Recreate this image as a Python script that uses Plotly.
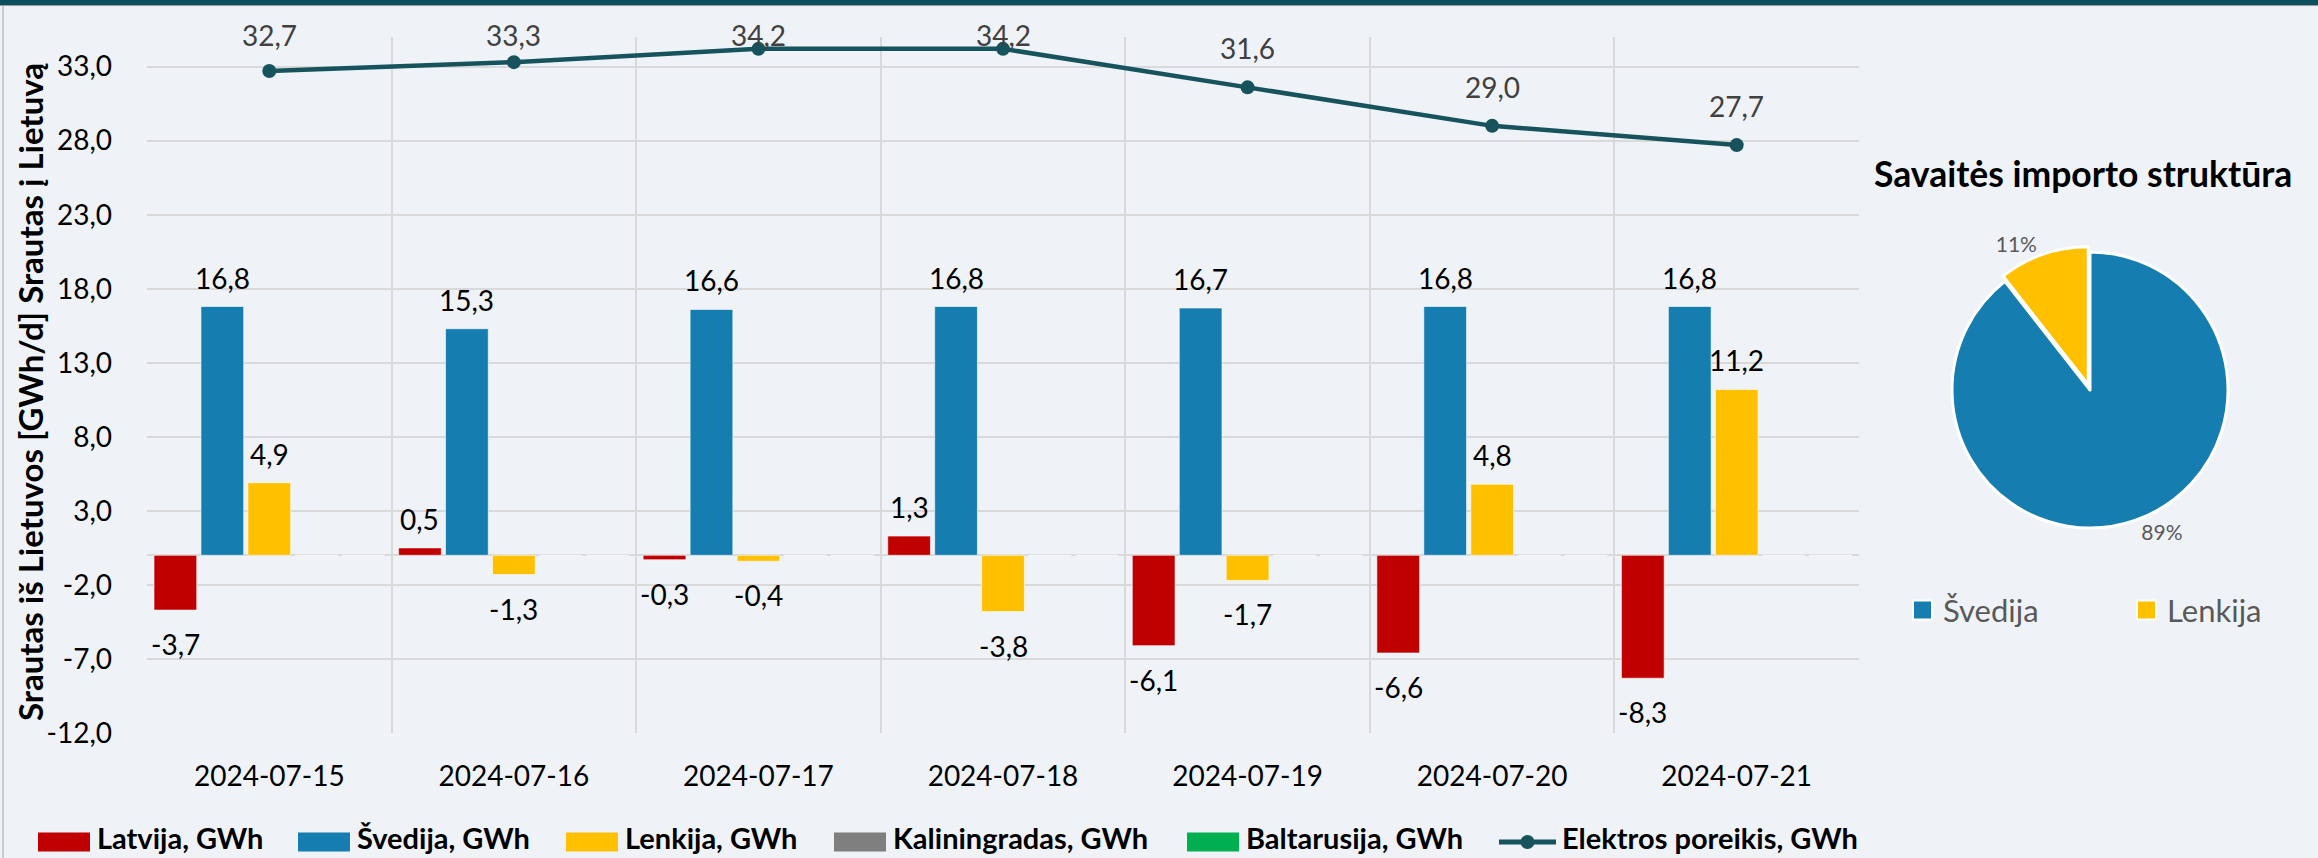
import plotly.graph_objects as go

# ---------------- data ----------------
dates = ["2024-07-15", "2024-07-16", "2024-07-17", "2024-07-18",
         "2024-07-19", "2024-07-20", "2024-07-21"]
latvija = [-3.7, 0.5, -0.3, 1.3, -6.1, -6.6, -8.3]
svedija = [16.8, 15.3, 16.6, 16.8, 16.7, 16.8, 16.8]
lenkija = [4.9, -1.3, -0.4, -3.8, -1.7, 4.8, 11.2]
kaliningradas = [0, 0, 0, 0, 0, 0, 0]
baltarusija = [0, 0, 0, 0, 0, 0, 0]
poreikis = [32.7, 33.3, 34.2, 34.2, 31.6, 29.0, 27.7]

y_ticks = [-12, -7, -2, 3, 8, 13, 18, 23, 28, 33]

pie_labels = ["Švedija", "Lenkija"]
pie_values = [sum(svedija), sum(lenkija)]

series_names = ["Latvija, GWh", "Švedija, GWh", "Lenkija, GWh",
                "Kaliningradas, GWh", "Baltarusija, GWh"]
series_values = [latvija, svedija, lenkija, kaliningradas, baltarusija]
series_colors = ["#C00000", "#167DB0", "#FFC000", "#7F7F7F", "#00B050"]
line_color = "#17535C"
pie_colors = ["#167DB0", "#FFC000"]

W, H = 2318, 858
FONT = "Lato"
BG = "#EFF3F7"
GRID = "#D9D9D9"

# plot area in pixels
PL, PR, PT, PB = 147, 1859, 37, 733
YMIN, YMAX = -12, 35
BARGAP = 0.04


def px_x(x):
    return x / W


def px_y(y):
    return 1 - y / H


def fmt(v):
    return f"{v:.1f}".replace(".", ",")


def val_to_px(v):
    return PT + (YMAX - v) * (PB - PT) / (YMAX - YMIN)


fig = go.Figure()

for name, vals, col in zip(series_names, series_values, series_colors):
    fig.add_trace(go.Bar(
        x=dates, y=vals, name=name,
        marker=dict(color=col, line=dict(color="rgba(255,255,255,0.6)", width=1)),
        showlegend=False, hoverinfo="skip",
    ))

fig.add_trace(go.Scatter(
    x=dates, y=poreikis, name="Elektros poreikis, GWh",
    mode="lines+markers",
    line=dict(color=line_color, width=4.5),
    marker=dict(color=line_color, size=14),
    cliponaxis=False, showlegend=False, hoverinfo="skip",
))

annotations = []

# bar value labels (placed at each bar's end)
n_series = len(series_values)
slot = (PR - PL) / len(dates) * (1 - BARGAP) / n_series
for i, vals in enumerate(series_values):
    if not any(v != 0 for v in vals):
        continue
    for d, v in zip(dates, vals):
        annotations.append(dict(
            x=d, y=v, xref="x", yref="y",
            xshift=(i - (n_series - 1) / 2) * slot,
            yshift=29 if v >= 0 else -34,
            showarrow=False, text=fmt(v),
            font=dict(family=FONT, size=28, color="#000000"),
        ))

# line labels (kept inside the chart area at the top)
for d, v in zip(dates, poreikis):
    mp = val_to_px(v)
    annotations.append(dict(
        x=d, y=v, xref="x", yref="y", yshift=min(39, mp - 35), showarrow=False,
        text=fmt(v), font=dict(family=FONT, size=28, color="#404040"),
    ))

# pie
pcx, pcy, prad = 2090, 390, 138
half = prad * 1.04
fig.add_trace(go.Pie(
    labels=pie_labels, values=pie_values, sort=False,
    direction="clockwise", rotation=0,
    marker=dict(colors=pie_colors, line=dict(color="#FFFFFF", width=3)),
    pull=[0, 0.04],
    textposition="outside", texttemplate="%{percent:.0%}",
    textfont=dict(family=FONT, size=21, color="#595959"),
    domain=dict(x=[px_x(pcx - half), px_x(pcx + half)],
                y=[px_y(pcy + half), px_y(pcy - half)]),
    showlegend=False, hoverinfo="skip", automargin=False,
))

# y axis title
annotations.append(dict(
    x=px_x(30), y=px_y(392), xref="paper", yref="paper",
    xanchor="center", yanchor="middle", textangle=-90, showarrow=False,
    text="<b>Srautas iš Lietuvos [GWh/d] Srautas į Lietuvą</b>",
    font=dict(family=FONT, size=33, color="#000000"),
))

# pie title
annotations.append(dict(
    x=px_x(2083), y=px_y(173), xref="paper", yref="paper",
    xanchor="center", yanchor="middle", showarrow=False,
    text="<b>Savaitės importo struktūra</b>",
    font=dict(family=FONT, size=35.5, color="#000000"),
))

shapes = []
# top band and frame
shapes.append(dict(type="rect", xref="paper", yref="paper", x0=0, x1=1,
                   y0=px_y(5), y1=1, fillcolor="#0B505C", line=dict(width=0)))
shapes.append(dict(type="line", xref="paper", yref="paper", x0=0, x1=1,
                   y0=px_y(5.5), y1=px_y(5.5), line=dict(color="#9E9E9E", width=1)))
shapes.append(dict(type="line", xref="paper", yref="paper", x0=px_x(3), x1=px_x(3),
                   y0=0, y1=px_y(6), line=dict(color="#A6A6A6", width=1)))

# bottom legend (custom)
leg_y = 842
txt_y = 837
swatch_x = [38, 298, 566, 834, 1187]
for sx, name, col in zip(swatch_x, series_names, series_colors):
    shapes.append(dict(type="rect", xref="paper", yref="paper",
                       x0=px_x(sx), x1=px_x(sx + 52),
                       y0=px_y(leg_y + 9.5), y1=px_y(leg_y - 9.5),
                       fillcolor=col, line=dict(width=0)))
    annotations.append(dict(x=px_x(sx + 57), y=px_y(txt_y), xref="paper", yref="paper",
                            xanchor="left", yanchor="middle", showarrow=False,
                            text=f"<b>{name}</b>",
                            font=dict(family=FONT, size=29, color="#000000")))
lx0, lx1 = 1499, 1556
shapes.append(dict(type="line", xref="paper", yref="paper",
                   x0=px_x(lx0), x1=px_x(lx1), y0=px_y(leg_y), y1=px_y(leg_y),
                   line=dict(color=line_color, width=5)))
shapes.append(dict(type="circle", xref="paper", yref="paper",
                   x0=px_x((lx0 + lx1) / 2 - 7), x1=px_x((lx0 + lx1) / 2 + 7),
                   y0=px_y(leg_y + 7), y1=px_y(leg_y - 7),
                   fillcolor=line_color, line=dict(width=0)))
annotations.append(dict(x=px_x(lx1 + 4), y=px_y(txt_y), xref="paper", yref="paper",
                        xanchor="left", yanchor="middle", showarrow=False,
                        text="<b>Elektros poreikis, GWh</b>",
                        font=dict(family=FONT, size=29, color="#000000")))

# pie legend (custom)
pleg_y = 610
for sx, name, col in zip([1913, 2137], pie_labels, pie_colors):
    shapes.append(dict(type="rect", xref="paper", yref="paper",
                       x0=px_x(sx), x1=px_x(sx + 19),
                       y0=px_y(pleg_y + 9.5), y1=px_y(pleg_y - 9.5),
                       fillcolor=col, line=dict(color="#FFFFFF", width=2)))
    annotations.append(dict(x=px_x(sx + 28), y=px_y(pleg_y), xref="paper", yref="paper",
                            xanchor="left", yanchor="middle", showarrow=False,
                            text=name, font=dict(family=FONT, size=31, color="#595959")))

fig.update_layout(
    template="none",
    width=W, height=H, autosize=False,
    margin=dict(l=0, r=0, t=0, b=0, pad=0, autoexpand=False),
    paper_bgcolor=BG, plot_bgcolor=BG,
    barmode="group", bargap=BARGAP, bargroupgap=0.09,
    separators=", ",
    hovermode=False,
    font=dict(family=FONT, size=28, color="#000000"),
    annotations=annotations, shapes=shapes,
    xaxis=dict(
        domain=[px_x(PL), px_x(PR)], type="category", automargin=False,
        tickson="boundaries", showgrid=True, gridcolor=GRID, gridwidth=1.5,
        ticks="", showline=False, zeroline=False,
        tickfont=dict(family=FONT, size=28, color="#000000"),
        ticklabelstandoff=24,
    ),
    yaxis=dict(
        domain=[px_y(PB), px_y(PT)], range=[YMIN, YMAX], automargin=False,
        tickmode="array", tickvals=y_ticks, ticktext=[fmt(v) for v in y_ticks],
        showgrid=True, gridcolor=GRID, gridwidth=1.5,
        zeroline=True, zerolinecolor=GRID, zerolinewidth=2,
        showline=False, ticks="",
        tickfont=dict(family=FONT, size=28, color="#000000"),
        ticklabelstandoff=34,
    ),
)

fig.write_html(
    "out.html",
    config={"displayModeBar": False, "responsive": False},
    post_script="document.body.style.margin='0';document.body.style.overflow='hidden';",
)
